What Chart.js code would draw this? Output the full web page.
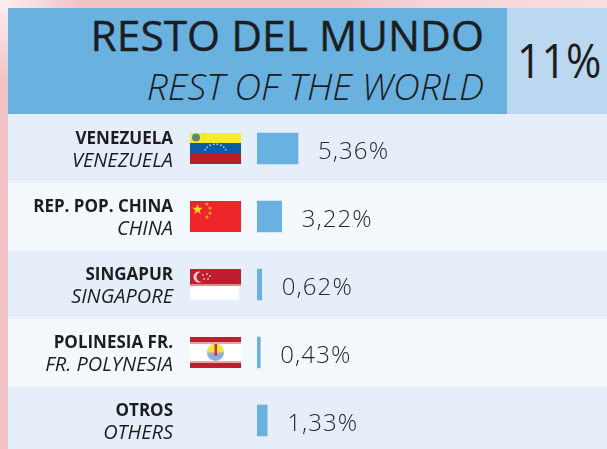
<!DOCTYPE html>
<html>
<head>
<meta charset="utf-8">
<script src="https://cdn.jsdelivr.net/npm/chart.js@4"></script>
<style>
  html, body { margin: 0; padding: 0; width: 607px; height: 449px; overflow: hidden; }
  body {
    position: relative;
    background:
      radial-gradient(circle at 0 0, rgba(255,255,255,.75), rgba(255,255,255,0) 85px),
      linear-gradient(90deg, rgba(255,255,255,0) 340px, rgba(255,255,255,.3) 420px, rgba(255,255,255,.45) 607px) top / 100% 8px no-repeat,
      #f0c2c5;
    font-family: "Open Sans", sans-serif;
    color: #1d1d1f;
  }
  .head { position: absolute; top: 8px; height: 106px; }
  #headMain { left: 8px; width: 499px; background: #69b2e0; }
  #headShare { left: 507px; width: 100px; background: #bbd8f0; }
  .line { position: absolute; right: 23px; white-space: nowrap; line-height: 1; }
  #titleEs { top: 6px; font-size: 42.5px; font-weight: 400; -webkit-text-stroke: 0.4px #1d1d1f; }
  #titleEn { top: 59px; font-size: 37.3px; font-style: italic; font-weight: 300; }
  #share { position: absolute; left: 10px; top: 29px; font-size: 47px; line-height: 1; white-space: nowrap; transform: scaleX(0.91); transform-origin: left; }
  canvas { position: absolute; left: 0; top: 0; }
</style>
</head>
<body>
<div class="head" id="headMain">
  <div class="line" id="titleEs"></div>
  <div class="line" id="titleEn"></div>
</div>
<div class="head" id="headShare"><div id="share"></div></div>
<canvas id="chart" width="607" height="460"></canvas>
<script>
const titleEs = 'RESTO DEL MUNDO';
const titleEn = 'REST OF THE WORLD';
const shareLabel = '11%';
const categories = ['VENEZUELA', 'REP. POP. CHINA', 'SINGAPUR', 'POLINESIA FR.', 'OTROS'];
const categoriesEn = ['VENEZUELA', 'CHINA', 'SINGAPORE', 'FR. POLYNESIA', 'OTHERS'];
const values = [5.36, 3.22, 0.62, 0.43, 1.33];
const valueLabels = ['5,36%', '3,22%', '0,62%', '0,43%', '1,33%'];
const flags = ['ve', 'cn', 'sg', 'pf', null];

document.getElementById('titleEs').textContent = titleEs;
document.getElementById('titleEn').textContent = titleEn;
document.getElementById('share').textContent = shareLabel;

function star(ctx, cx, cy, r, color) {
  ctx.fillStyle = color;
  ctx.beginPath();
  for (let i = 0; i < 10; i++) {
    const rad = i % 2 ? r * 0.4 : r;
    const a = -Math.PI / 2 + i * Math.PI / 5;
    ctx.lineTo(cx + rad * Math.cos(a), cy + rad * Math.sin(a));
  }
  ctx.closePath();
  ctx.fill();
}

function dot(ctx, cx, cy, r, color) {
  ctx.fillStyle = color;
  ctx.beginPath();
  ctx.arc(cx, cy, r, 0, Math.PI * 2);
  ctx.fill();
}

function drawFlag(ctx, code, x, y) {
  const w = 51;
  const h = 31;
  if (code === 've') {
    ctx.fillStyle = '#fdea2a';
    ctx.fillRect(x, y, w, 10);
    ctx.fillStyle = '#0a5ca6';
    ctx.fillRect(x, y + 10, w, 11);
    ctx.fillStyle = '#b41f28';
    ctx.fillRect(x, y + 21, w, 10);
    dot(ctx, x + 6, y + 4.5, 4, '#5d8a80');
    for (let i = 0; i < 8; i++) {
      const a = Math.PI * (1.12 + i * 0.76 / 7);
      dot(ctx, x + 25.5 + 11 * Math.cos(a), y + 20 + 9 * Math.sin(a), 0.9, '#b5cfe4');
    }
  } else if (code === 'cn') {
    ctx.fillStyle = '#ee2529';
    ctx.fillRect(x, y, w, h);
    star(ctx, x + 7.5, y + 8.5, 5.5, '#f8d92c');
    dot(ctx, x + 17, y + 3, 1.5, '#f4a52c');
    dot(ctx, x + 20, y + 7, 1.5, '#f4a52c');
    dot(ctx, x + 20, y + 12, 1.5, '#f4a52c');
    dot(ctx, x + 17, y + 16, 1.5, '#f4a52c');
  } else if (code === 'sg') {
    ctx.fillStyle = '#ffffff';
    ctx.fillRect(x, y, w - 2, h);
    ctx.fillStyle = '#be1e2d';
    ctx.fillRect(x, y, w, 15);
    ctx.fillStyle = '#e4848c';
    ctx.fillRect(x, y + 15, w, 2);
    dot(ctx, x + 9, y + 8, 5.5, '#f6d6d8');
    dot(ctx, x + 11.5, y + 8, 5, '#be1e2d');
    dot(ctx, x + 13, y + 6, 1, '#eeb3b7');
    dot(ctx, x + 17, y + 5, 1, '#eeb3b7');
    dot(ctx, x + 20, y + 7, 1, '#eeb3b7');
    dot(ctx, x + 14, y + 10, 1, '#eeb3b7');
    dot(ctx, x + 18, y + 10, 1, '#eeb3b7');
  } else if (code === 'pf') {
    ctx.fillStyle = '#ffffff';
    ctx.fillRect(x, y, w, h);
    ctx.fillStyle = '#be1e2d';
    ctx.fillRect(x, y, w, 5);
    ctx.fillRect(x, y + 26, w, 5);
    ctx.fillStyle = '#e9a4a9';
    ctx.fillRect(x, y + 5, w, 2);
    ctx.fillRect(x, y + 24, w, 2);
    dot(ctx, x + 25.5, y + 15, 8.5, '#f5e13f');
    ctx.fillStyle = '#8eaedb';
    ctx.beginPath();
    ctx.arc(x + 25.5, y + 15.5, 8.5, 0, Math.PI);
    ctx.fill();
    ctx.fillStyle = '#c8353c';
    ctx.fillRect(x + 24.5, y + 7, 2.5, 12);
  }
}

const infographic = {
  id: 'infographic',
  beforeDatasetsDraw(chart) {
    const { ctx, chartArea, scales: { y } } = chart;
    const band = chartArea.height / categories.length;
    ctx.save();
    categories.forEach((_, i) => {
      const top = Math.floor(y.getPixelForValue(i) - band / 2);
      ctx.fillStyle = i % 2 ? '#f4f9fe' : '#e6eefa';
      ctx.fillRect(8, top, 599, Math.round(band));
      ctx.fillStyle = '#f0edf3';
      if (i) ctx.fillRect(8, top, 599, 1);
    });
    ctx.restore();
  },
  afterDatasetsDraw(chart) {
    const { ctx, scales: { x, y } } = chart;
    ctx.save();
    ctx.textBaseline = 'alphabetic';
    categories.forEach((name, i) => {
      const cy = y.getPixelForValue(i);
      ctx.fillStyle = '#1d1d1f';
      ctx.textAlign = 'right';
      ctx.font = '700 17px "Open Sans"';
      ctx.fillText(name, 173, cy - 5);
      ctx.font = 'italic 400 20px "Open Sans"';
      ctx.fillText(categoriesEn[i], 173, cy + 18);
      if (flags[i]) {
        ctx.filter = 'blur(0.5px)';
        drawFlag(ctx, flags[i], 190, Math.round(cy - 15.5));
        ctx.filter = 'none';
      }
      ctx.fillStyle = '#26282c';
      ctx.textAlign = 'left';
      ctx.font = '300 24px "Open Sans"';
      ctx.letterSpacing = '1.1px';
      ctx.fillText(valueLabels[i], x.getPixelForValue(values[i]) + 20, cy + 10);
      ctx.letterSpacing = '0px';
    });
    ctx.restore();
  }
};

new Chart(document.getElementById('chart').getContext('2d'), {
  type: 'bar',
  data: {
    labels: categories,
    datasets: [{
      data: values,
      backgroundColor: '#69b2e0',
      barThickness: 31,
      borderWidth: 0
    }]
  },
  options: {
    indexAxis: 'y',
    responsive: false,
    animation: false,
    events: [],
    layout: { padding: { left: 257, right: 0, top: 114.5, bottom: 5.5 } },
    plugins: { legend: { display: false }, tooltip: { enabled: false } },
    scales: {
      x: { display: false, min: 0, max: 45.75 },
      y: { display: false }
    }
  },
  plugins: [infographic]
});
</script>
</body>
</html>
